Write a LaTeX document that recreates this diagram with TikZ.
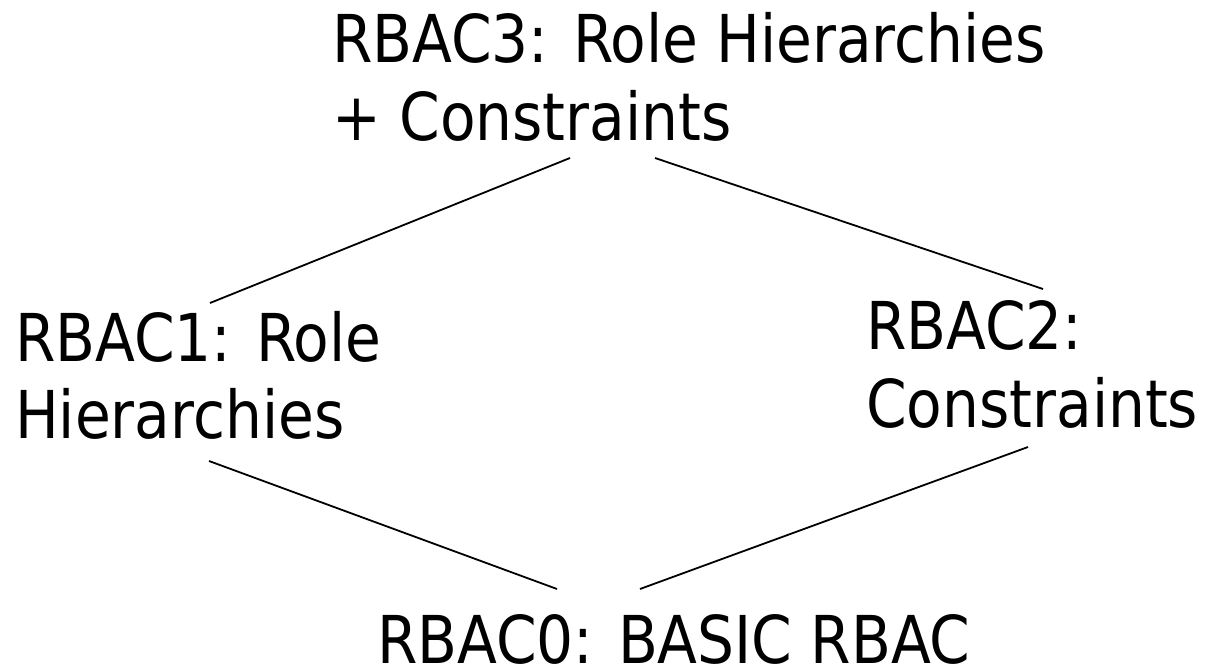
\documentclass[tikz,border=0pt]{standalone}
\usepackage{fontspec}
\setmainfont{DejaVu Sans Condensed}[FakeStretch=0.98]
\begin{document}
\begin{tikzpicture}[x=1pt,y=-1pt,
  lbl/.style={anchor=base west,inner sep=0pt,font=\fontsize{66}{77}\selectfont},
  conn/.style={line width=1.8pt,black}]
\useasboundingbox (0,0) rectangle (1208,668);
\node[lbl] (r3) at (332,63) {\vtop{\baselineskip=78pt\hbox{RBAC3: Role Hierarchies}\hbox{+ Constraints}}};
\node[lbl] (r1) at (15,362) {\vtop{\baselineskip=77pt\hbox{RBAC1: Role}\hbox{Hierarchies}}};
\node[lbl] (r2) at (866,350) {\vtop{\baselineskip=78pt\hbox{RBAC2:}\hbox{Constraints}}};
\node[lbl] (r0) at (377,663) {RBAC0: BASIC RBAC};
\coordinate (a1) at (210,303);
\coordinate (a3) at (570,158);
\coordinate (b3) at (655,158);
\coordinate (b2) at (1043,289);
\coordinate (c1) at (209,461);
\coordinate (c0) at (557,589);
\coordinate (d0) at (640,589);
\coordinate (d2) at (1028,447);
\draw[conn] (a1) -- (a3);
\draw[conn] (b3) -- (b2);
\draw[conn] (c1) -- (c0);
\draw[conn] (d0) -- (d2);
\end{tikzpicture}
\end{document}
